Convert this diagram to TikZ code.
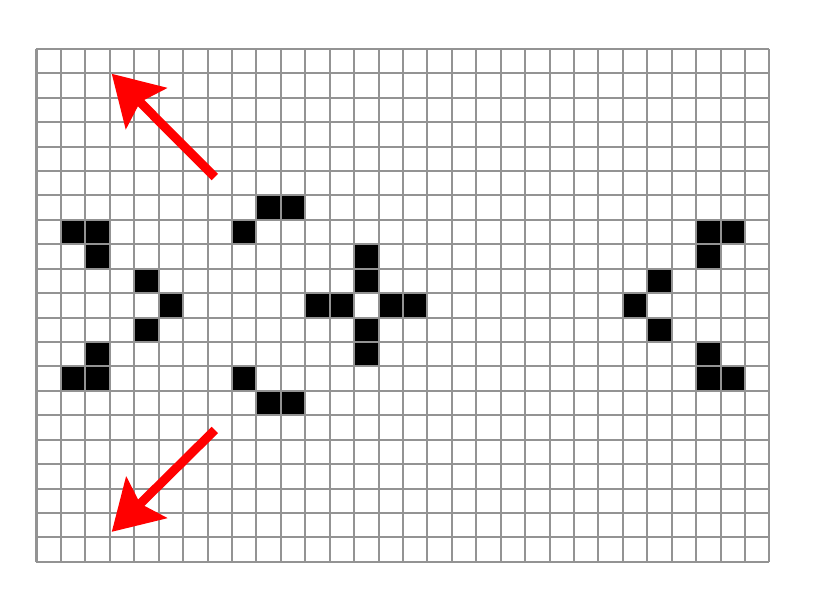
\documentclass[tikz,border=0pt]{standalone}
\usepackage{tikz}
\usetikzlibrary{arrows.meta}

\tikzset{
  gridline/.style={draw=gray!85,line width=1.4pt},
  bigarrow/.style={draw=red,line width=6.3pt,-{Stealth[length=34pt,width=40pt,inset=6pt]}}
}

\begin{document}
\begin{tikzpicture}[x=0.6cm,y=0.6cm]
  \useasboundingbox (-1.494,-2.0) rectangle (32.48,23.0);
  % live cells, given as column/row counted from the top
  \foreach \c/\r in {9/6,10/6,1/7,2/7,8/7,2/8,13/8,4/9,13/9,5/10,11/10,12/10,14/10,15/10,
                     4/11,13/11,2/12,13/12,1/13,2/13,8/13,9/14,10/14,
                     27/7,28/7,27/8,25/9,24/10,25/11,27/12,27/13,28/13}{
    \fill[black] (\c,20-\r) rectangle +(1,1);
  }
  \draw[gridline,step=0.6cm] (0,0) grid (30,21);
  % arrows
  \coordinate (upStart) at (7.3,15.75);
  \coordinate (upTip) at (3.08,19.98);
  \coordinate (downStart) at (7.3,5.4);
  \coordinate (downTip) at (3.08,1.23);
  \draw[bigarrow] (upStart) -- (upTip);
  \draw[bigarrow] (downStart) -- (downTip);
\end{tikzpicture}
\end{document}
